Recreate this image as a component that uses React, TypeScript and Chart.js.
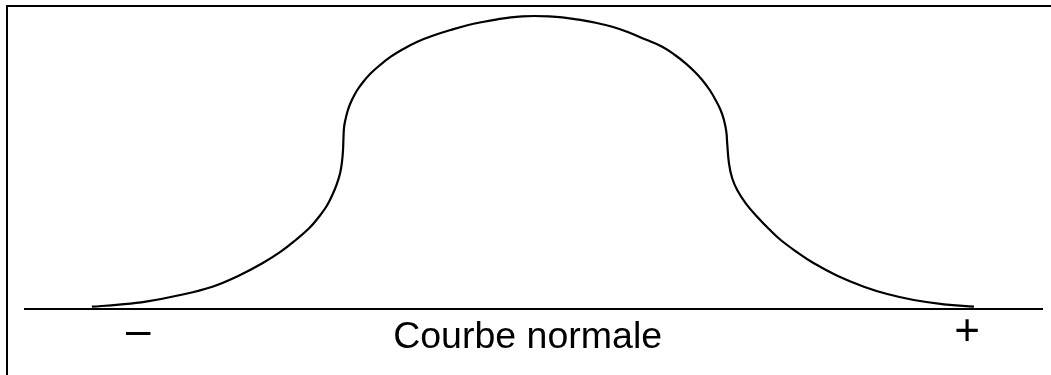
import React, { useEffect, useRef } from "react";
import { Chart, registerables } from "chart.js";

Chart.register(...registerables);

// Curve (x in standard units, y as % of peak height)
const curveX: number[] = [
  -3.005, -2.82, -2.638, -2.412, -2.185, -2.003, -1.845, -1.72, -1.618, -1.527,
  -1.459, -1.407, -1.369, -1.339, -1.316, -1.303, -1.296, -1.293, -1.288, -1.273,
  -1.255, -1.23, -1.199, -1.158, -1.107, -1.044, -0.971, -0.886, -0.79, -0.677,
  -0.563, -0.45, -0.337, -0.246, -0.155, -0.076, 0.003,
  0.105, 0.196, 0.31, 0.423, 0.536, 0.65, 0.763, 0.876, 0.967, 1.035, 1.097,
  1.148, 1.199, 1.239, 1.273, 1.296, 1.312, 1.318, 1.33, 1.352, 1.386, 1.444,
  1.522, 1.602, 1.682, 1.795, 1.908, 2.067, 2.248, 2.407, 2.588, 2.793, 2.997,
];
const curveY: number[] = [
  0.78, 1.47, 2.49, 4.68, 7.61, 11.43, 15.6, 19.56, 23.55, 27.54,
  31.5, 35.15, 38.91, 42.56, 46.31, 50.27, 54.27, 58.36, 62.46, 66.04,
  69.04, 71.91, 74.74, 77.58, 80.44, 83.28, 86.11, 88.74, 91.23, 93.41,
  95.22, 96.83, 98.05, 98.87, 99.56, 99.9, 100,
  99.9, 99.56, 98.74, 97.71, 96.31, 94.37, 91.95, 89.52, 86.52, 83.86, 80.99,
  78.16, 74.74, 71.33, 67.92, 64.51, 60.51, 56.55, 49.73, 44.61, 40.61, 36.08,
  31.5, 27.3, 23.55, 19.35, 15.6, 11.37, 7.61, 5.12, 3.07, 1.6, 0.78,
];

const tickValues: number[] = [-2.69, -0.04, 2.95];
const tickLabels: string[] = ["–", "Courbe normale", "+"];

const xMin = -3.46;
const xMax = 3.46;

const FONT = '"Liberation Sans", Arial, Helvetica, sans-serif';

const frame = {
  id: "frame",
  afterDraw(chart: any) {
    const ctx = chart.ctx;
    ctx.save();
    ctx.fillStyle = "#000";
    ctx.fillRect(6, 5, chart.width - 6, 2);
    ctx.fillRect(6, 5, 2, chart.height - 5);
    ctx.restore();
  },
};

export default function App() {
  const ref = useRef<HTMLCanvasElement | null>(null);

  useEffect(() => {
    if (!ref.current) return;
    const data = curveX.map((x, i) => ({ x, y: curveY[i] }));
    const chart = new Chart(ref.current, {
      type: "line",
      data: {
        datasets: [
          {
            data,
            borderColor: "#000",
            borderWidth: 2.2,
            pointRadius: 0,
            fill: false,
            tension: 0.4,
            clip: false as any,
          },
        ],
      },
      plugins: [frame],
      options: {
        animation: false,
        responsive: false,
        events: [],
        layout: { padding: { left: 25, right: 9, top: 16, bottom: 0 } },
        plugins: { legend: { display: false }, tooltip: { enabled: false } },
        scales: {
          x: {
            type: "linear",
            min: xMin,
            max: xMax,
            grid: { display: false },
            border: { display: true, color: "#000", width: 2 },
            afterBuildTicks: (scale: any) => {
              scale.ticks = tickValues.map((v) => ({ value: v }));
            },
            afterFit: (scale: any) => {
              scale.height = 66;
            },
            ticks: {
              autoSkip: false,
              maxRotation: 0,
              minRotation: 0,
              padding: 0,
              color: "#000",
              callback: (_v: any, i: number) => tickLabels[i],
              font: (ctx: any) =>
                ctx.index === 1
                  ? { family: FONT, size: 37.5, lineHeight: 1.12 }
                  : { family: FONT, size: 44, lineHeight: 0.74 },
            },
          },
          y: {
            display: false,
            min: 0,
            max: 100,
          },
        },
      },
    });
    return () => chart.destroy();
  }, []);

  return (
    <canvas
      ref={ref}
      width={1051}
      height={375}
      style={{ position: "absolute", left: 0, top: 0, display: "block", background: "#fff" }}
    />
  );
}
